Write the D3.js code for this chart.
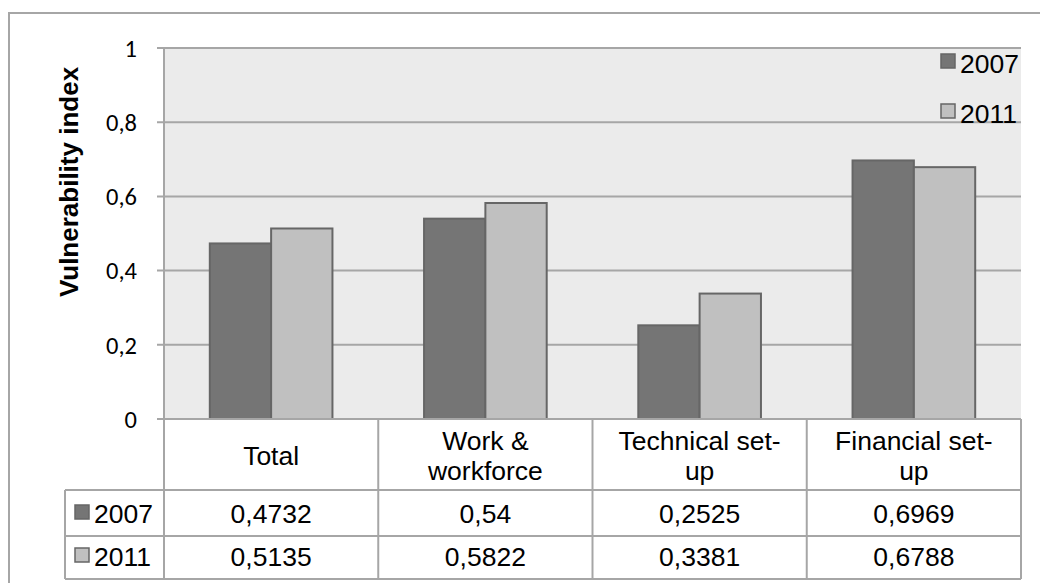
<!DOCTYPE html>
<html><head><meta charset="utf-8">
<script src="https://cdn.jsdelivr.net/npm/d3@7"></script>
<style>body{margin:0;background:#fff}svg{display:block}</style></head>
<body>
<svg id="c" width="1040" height="583"></svg>
<script>
// ---- data ----
const categories = [["Total"], ["Work &", "workforce"], ["Technical set-", "up"], ["Financial set-", "up"]];
const seriesNames = ["2007", "2011"];
const values2007 = [0.4732, 0.54, 0.2525, 0.6969];
const values2011 = [0.5135, 0.5822, 0.3381, 0.6788];
const valueLabels2007 = ["0,4732", "0,54", "0,2525", "0,6969"];
const valueLabels2011 = ["0,5135", "0,5822", "0,3381", "0,6788"];
const yTicks = [0, 0.2, 0.4, 0.6, 0.8, 1];
const yTickLabels = ["0", "0,2", "0,4", "0,6", "0,8", "1"];
const axisTitle = "Vulnerability index";

const seriesValues = [values2007, values2011];
const seriesLabels = [valueLabels2007, valueLabels2011];
const seriesColors = ["#757575", "#c0c0c0"];

// ---- layout ----
const svg = d3.select("#c");
const plotL = 164, plotR = 1021, plotT = 48, plotB = 419;
const tableL = 65, rowY = [419, 490, 536, 579];
const gridColor = "#a6a6a6";
const tableFont = "'Liberation Sans', Arial, sans-serif";
const fs = 26.5;

const x = d3.scaleBand().domain(d3.range(categories.length)).range([plotL, plotR]).padding(0);
const x1 = d3.scaleBand().domain(seriesNames).range([45.8, x.bandwidth() - 45.8]).padding(0);
const y = d3.scaleLinear().domain([0, 1]).range([plotB, plotT]);

// outer frame
svg.append("path").attr("d", "M9,583V13H1040").attr("fill", "none")
  .attr("stroke", gridColor).attr("stroke-width", 2);

// plot background
svg.append("rect").attr("x", plotL).attr("y", plotT).attr("width", plotR - plotL).attr("height", plotB - plotT)
  .attr("fill", "#ebebeb");

// gridlines + tick marks
svg.append("g").selectAll("line").data(yTicks).join("line")
  .attr("x1", plotL - 7).attr("x2", plotR)
  .attr("y1", d => y(d)).attr("y2", d => y(d))
  .attr("stroke", gridColor).attr("stroke-width", 2);

// y tick labels
svg.append("g").selectAll("text").data(yTicks).join("text")
  .attr("x", 137).attr("y", d => y(d)).attr("dy", "0.36em")
  .attr("text-anchor", "end")
  .attr("font-family", "Carlito, Lato, sans-serif").attr("font-size", 24.5).attr("fill", "#000")
  .text((d, i) => yTickLabels[i]);

// axis title
svg.append("text")
  .attr("transform", "translate(78,182) rotate(-90)")
  .attr("text-anchor", "middle")
  .attr("font-family", tableFont).attr("font-weight", "bold").attr("font-size", 26)
  .text(axisTitle);

// bars
const gb = svg.append("g");
seriesNames.forEach((s, si) => {
  gb.append("g").selectAll("rect").data(seriesValues[si]).join("rect")
    .attr("x", (d, i) => x(i) + x1(s))
    .attr("y", d => y(d))
    .attr("width", x1.bandwidth())
    .attr("height", d => y(0) - y(d))
    .attr("fill", seriesColors[si])
    .attr("stroke", "#666").attr("stroke-width", 2);
});

// table lines
const tl = svg.append("g").attr("stroke", gridColor).attr("stroke-width", 2);
[rowY[1], rowY[2], rowY[3]].forEach(yy => {
  tl.append("line").attr("x1", tableL).attr("x2", plotR).attr("y1", yy).attr("y2", yy);
});
tl.append("line").attr("x1", plotL - 7).attr("x2", plotR).attr("y1", rowY[0]).attr("y2", rowY[0]);
tl.append("line").attr("x1", tableL).attr("x2", tableL).attr("y1", rowY[1]).attr("y2", rowY[3]);
tl.append("line").attr("x1", plotL).attr("x2", plotL).attr("y1", plotT).attr("y2", rowY[3]);
d3.range(categories.length).forEach(i => {
  const xx = x(i) + x.bandwidth();
  tl.append("line").attr("x1", xx).attr("x2", xx).attr("y1", rowY[0]).attr("y2", rowY[3]);
});

// category header labels
const hdr = svg.append("g").attr("font-family", tableFont).attr("font-size", fs).attr("text-anchor", "middle");
categories.forEach((lines, i) => {
  const cx = x(i) + x.bandwidth() / 2;
  const t = hdr.append("text").attr("x", cx);
  const lh = 30;
  const base = 465 - (lines.length - 1) * lh / 2;
  lines.forEach((ln, j) => {
    t.append("tspan").attr("x", cx).attr("y", base + j * lh).text(ln);
  });
});

// table series rows
const rowBase = [523, 566];
seriesNames.forEach((s, si) => {
  svg.append("rect").attr("x", 75).attr("y", rowBase[si] - 18).attr("width", 14).attr("height", 14)
    .attr("fill", seriesColors[si]).attr("stroke", "#666").attr("stroke-width", 1.5);
  svg.append("text").attr("x", 94).attr("y", rowBase[si])
    .attr("font-family", tableFont).attr("font-size", fs).text(s);
  svg.append("g").selectAll("text").data(seriesLabels[si]).join("text")
    .attr("x", (d, i) => x(i) + x.bandwidth() / 2).attr("y", rowBase[si])
    .attr("text-anchor", "middle").attr("font-family", tableFont).attr("font-size", fs)
    .text(d => d);
});

// legend
const legBase = [73, 123];
seriesNames.forEach((s, si) => {
  svg.append("rect").attr("x", 941).attr("y", legBase[si] - 19).attr("width", 14).attr("height", 14)
    .attr("fill", seriesColors[si]).attr("stroke", "#666").attr("stroke-width", 1.5);
  svg.append("text").attr("x", 960).attr("y", legBase[si])
    .attr("font-family", tableFont).attr("font-size", fs).text(s);
});
</script>
</body></html>
